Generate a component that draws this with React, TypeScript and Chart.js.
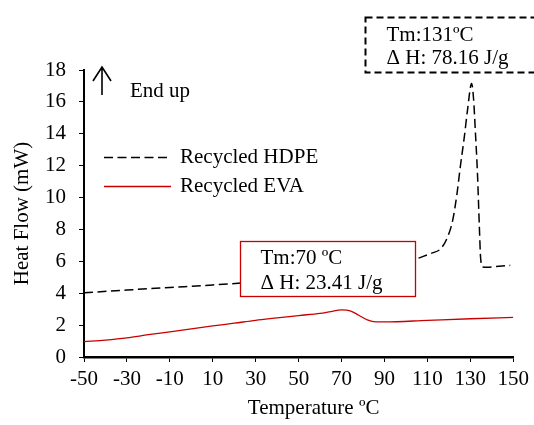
import React, { useEffect, useRef } from 'react';
import { Chart, registerables } from 'chart.js';

Chart.register(...registerables);

// ---------------- data ----------------
const hdpeTemps = [-50, -30, -10, 10, 30, 50, 70, 90, 100, 105.5, 111.7, 116.3, 119.4, 121.8, 123.8, 125.3, 127.2, 128.7, 130.6, 131.5, 132.4, 133.3, 134.2, 134.8, 135.8, 138, 142, 148.6];
const hdpeFlow = [4.03, 4.2, 4.36, 4.52, 4.7, 4.9, 5.1, 5.5, 5.85, 6.18, 6.5, 6.8, 7.53, 8.58, 10.25, 11.9, 13.8, 15.5, 17.16, 16.2, 14.0, 11.6, 8.2, 6.2, 5.65, 5.63, 5.67, 5.75];

const evaTemps = [-50, -40, -30, -20, -10, 0, 10, 20, 30, 40, 50, 60, 65, 70, 74, 78, 82, 86, 90, 110, 130, 150];
const evaFlow = [0.96, 1.06, 1.2, 1.4, 1.58, 1.77, 1.95, 2.12, 2.3, 2.45, 2.6, 2.74, 2.85, 2.95, 2.9, 2.62, 2.33, 2.2, 2.2, 2.3, 2.4, 2.48];

const xTicks = [-50, -30, -10, 10, 30, 50, 70, 90, 110, 130, 150];
const yTicks = [0, 2, 4, 6, 8, 10, 12, 14, 16, 18];

const seriesNames = ['Recycled HDPE', 'Recycled EVA'];
const hdpeNote = ['Tm:131ºC', 'Δ H: 78.16 J/g'];
const evaNote = ['Tm:70 ºC', 'Δ H: 23.41 J/g'];
const arrowNote = 'End up';
const xTitle = 'Temperature ºC';
const yTitle = 'Heat Flow (mW)';

// ---------------- styles ----------------
const FONT = "'Liberation Serif', 'Times New Roman', serif";
const FS = 21;
const RED = '#c80000';
const DASH = [9, 4.5];

const annotations = {
  id: 'annotations',
  afterDatasetsDraw(chart: any) {
    const { ctx, chartArea, scales } = chart;
    const x = scales.x;
    const y = scales.y;
    ctx.save();
    ctx.font = `${FS}px ${FONT}`;
    ctx.textBaseline = 'alphabetic';
    ctx.textAlign = 'left';

    // EVA note box (white, red border)
    const rx1 = Math.round(x.getPixelForValue(22.6)) + 0.5;
    const rx2 = Math.round(x.getPixelForValue(104.2)) + 0.5;
    const ry1 = Math.round(y.getPixelForValue(7.26)) + 0.5;
    const ry2 = Math.round(y.getPixelForValue(3.8)) + 0.5;
    ctx.fillStyle = '#ffffff';
    ctx.fillRect(rx1, ry1, rx2 - rx1, ry2 - ry1);
    ctx.strokeStyle = RED;
    ctx.lineWidth = 1.3;
    ctx.setLineDash([]);
    ctx.strokeRect(rx1, ry1, rx2 - rx1, ry2 - ry1);
    ctx.fillStyle = '#000';
    ctx.fillText(evaNote[0], rx1 + 20, ry1 + 22);
    ctx.fillText(evaNote[1], rx1 + 20, ry1 + 47);

    // HDPE note box (dashed black)
    const bx1 = Math.round(x.getPixelForValue(81)) + 0.5;
    const by1 = Math.round(y.getPixelForValue(21.33)) + 0.5;
    const by2 = Math.round(y.getPixelForValue(17.87)) + 0.5;
    const bx2 = chart.width + 10;
    ctx.fillStyle = '#ffffff';
    ctx.fillRect(bx1, by1, bx2 - bx1, by2 - by1);
    ctx.strokeStyle = '#000';
    ctx.lineWidth = 2;
    ctx.setLineDash([7, 4]);
    ctx.strokeRect(bx1, by1, bx2 - bx1, by2 - by1);
    ctx.setLineDash([]);
    ctx.fillStyle = '#000';
    ctx.fillText(hdpeNote[0], bx1 + 21, by1 + 23);
    ctx.fillText(hdpeNote[1], bx1 + 21, by1 + 46);

    // Arrow + "End up"
    const ax = chartArea.left + 18;
    const aTop = chartArea.top - 3;
    ctx.strokeStyle = '#000';
    ctx.lineWidth = 1.6;
    ctx.beginPath();
    ctx.moveTo(ax, aTop + 28);
    ctx.lineTo(ax, aTop);
    ctx.moveTo(ax - 9, aTop + 14);
    ctx.lineTo(ax, aTop);
    ctx.lineTo(ax + 9, aTop + 14);
    ctx.stroke();
    ctx.fillText(arrowNote, chartArea.left + 46, chartArea.top + 27);

    // Legend
    const lx1 = chartArea.left + 20;
    const lx2 = chartArea.left + 87;
    const ly1 = chartArea.top + 87;
    const ly2 = chartArea.top + 116;
    ctx.lineWidth = 1.5;
    ctx.strokeStyle = '#000';
    ctx.setLineDash(DASH);
    ctx.beginPath();
    ctx.moveTo(lx1, ly1 + 0.5);
    ctx.lineTo(lx2, ly1 + 0.5);
    ctx.stroke();
    ctx.setLineDash([]);
    ctx.strokeStyle = RED;
    ctx.lineWidth = 1.3;
    ctx.beginPath();
    ctx.moveTo(lx1, ly2 + 0.5);
    ctx.lineTo(lx2, ly2 + 0.5);
    ctx.stroke();
    ctx.fillStyle = '#000';
    ctx.fillText(seriesNames[0], chartArea.left + 96, ly1 + 6);
    ctx.fillText(seriesNames[1], chartArea.left + 96, ly2 + 6);

    // X axis title
    ctx.textAlign = 'center';
    ctx.fillText(xTitle, (chartArea.left + chartArea.right) / 2 + 15, chart.height - 11);

    ctx.restore();
  },
};

export default function App() {
  const ref = useRef<HTMLCanvasElement | null>(null);

  useEffect(() => {
    if (!ref.current) return;
    Chart.defaults.font.family = FONT;
    Chart.defaults.color = '#000';
    const chart = new Chart(ref.current, {
      type: 'line',
      data: {
        datasets: [
          {
            label: seriesNames[0],
            data: hdpeTemps.map((t, i) => ({ x: t, y: hdpeFlow[i] })),
            borderColor: '#000',
            borderWidth: 1.5,
            borderDash: DASH,
            pointRadius: 0,
            fill: false,
            cubicInterpolationMode: 'monotone',
          },
          {
            label: seriesNames[1],
            data: evaTemps.map((t, i) => ({ x: t, y: evaFlow[i] })),
            borderColor: RED,
            borderWidth: 1.3,
            pointRadius: 0,
            fill: false,
            cubicInterpolationMode: 'monotone',
          },
        ],
      },
      options: {
        animation: false,
        responsive: false,
        maintainAspectRatio: false,
        layout: { padding: { left: 0, top: 70, right: 18, bottom: 0 } },
        plugins: {
          legend: { display: false },
          tooltip: { enabled: false },
          title: { display: false },
        },
        scales: {
          x: {
            type: 'linear',
            min: xTicks[0],
            max: xTicks[xTicks.length - 1],
            afterBuildTicks: (scale: any) => {
              scale.ticks = xTicks.map((v) => ({ value: v }));
            },
            afterFit: (scale: any) => {
              scale.height = 68;
            },
            ticks: {
              font: { size: FS, family: FONT },
              color: '#000',
              padding: 5,
              maxRotation: 0,
              autoSkip: false,
            },
            grid: {
              drawOnChartArea: false,
              drawTicks: true,
              tickLength: 5,
              color: '#000',
              lineWidth: 1,
            },
            border: { display: true, color: '#000', width: 2.5 },
          },
          y: {
            type: 'linear',
            min: yTicks[0],
            max: yTicks[yTicks.length - 1],
            afterBuildTicks: (scale: any) => {
              scale.ticks = yTicks.map((v) => ({ value: v }));
            },
            afterFit: (scale: any) => {
              scale.width = 84;
            },
            ticks: {
              font: { size: FS, family: FONT },
              color: '#000',
              padding: 13,
              autoSkip: false,
            },
            grid: {
              drawOnChartArea: false,
              drawTicks: true,
              tickLength: 5,
              color: '#000',
              lineWidth: 1,
            },
            border: { display: true, color: '#000', width: 2 },
            title: {
              display: true,
              text: yTitle,
              font: { size: FS, family: FONT },
              color: '#000',
              padding: { top: 10, bottom: 0 },
            },
          },
        },
      },
      plugins: [annotations],
    });
    return () => chart.destroy();
  }, []);

  return (
    <div style={{ position: 'absolute', left: 0, top: 0, width: 534, height: 425, background: '#fff' }}>
      <canvas ref={ref} width={534} height={425} style={{ width: 534, height: 425, display: 'block' }} />
    </div>
  );
}
